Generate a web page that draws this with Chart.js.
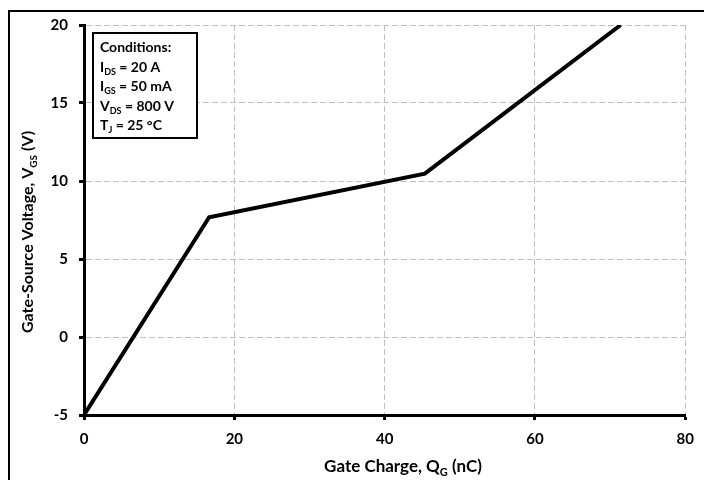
<!DOCTYPE html>
<html>
<head>
<meta charset="utf-8">
<script src="https://cdn.jsdelivr.net/npm/chart.js@4"></script>
<style>
  html, body { margin: 0; padding: 0; background: #fff; }
  #wrap { width: 704px; height: 480px; }
</style>
</head>
<body>
<div id="wrap"><canvas id="gateChart" width="704" height="480"></canvas></div>
<script>
// gate charge curve (nC) vs gate-source voltage (V)
const qgValues = [0, 16.65, 45.35, 71.4];
const vgsValues = [-5, 7.68, 10.47, 20];

const xTicks = [0, 20, 40, 60, 80];
const yTicks = [-5, 0, 5, 10, 15, 20];

// test conditions listed in the box, each line as [text, subscript, rest]
const conditionLines = [
    ['Conditions:', '', ''],
    ['I', 'DS', ' = 20 A'],
    ['I', 'GS', ' = 50 mA'],
    ['V', 'DS', ' = 800 V'],
    ['T', 'J', ' = 25 °C']
];

const FONT = 'Lato, "DejaVu Sans", sans-serif';

// draws "main + subscript + rest" starting at x (left aligned)
function drawSubText(ctx, x, y, main, sub, rest, size) {
    ctx.font = `bold ${size}px ${FONT}`;
    ctx.fillText(main, x, y);
    x += ctx.measureText(main).width;
    if (sub) {
        const subSize = Math.round(size * 0.65);
        ctx.font = `bold ${subSize}px ${FONT}`;
        ctx.fillText(sub, x, y + size * 0.22);
        x += ctx.measureText(sub).width;
    }
    ctx.font = `bold ${size}px ${FONT}`;
    ctx.fillText(rest, x, y);
}

function subTextWidth(ctx, main, sub, rest, size) {
    ctx.font = `bold ${size}px ${FONT}`;
    let w = ctx.measureText(main).width + ctx.measureText(rest).width;
    ctx.font = `bold ${Math.round(size * 0.65)}px ${FONT}`;
    w += ctx.measureText(sub).width;
    return w;
}

const decorations = {
    id: 'decorations',
    afterDraw(chart) {
        const ctx = chart.ctx;
        ctx.save();
        ctx.fillStyle = '#000';
        ctx.strokeStyle = '#000';
        ctx.textBaseline = 'alphabetic';

        // outer frame
        ctx.lineWidth = 2;
        ctx.strokeRect(9, 11, 710, 480);

        // conditions box
        ctx.fillStyle = '#fff';
        ctx.fillRect(93, 33, 104, 105);
        ctx.strokeRect(93, 33, 104, 105);
        ctx.fillStyle = '#000';
        conditionLines.forEach((ln, i) => {
            drawSubText(ctx, 100, 52 + i * 19.6, ln[0], ln[1], ln[2], 14);
        });

        // x axis title
        const xw = subTextWidth(ctx, 'Gate Charge, Q', 'G', ' (nC)', 17);
        drawSubText(ctx, 403 - xw / 2, 472, 'Gate Charge, Q', 'G', ' (nC)', 17);

        // y axis title, rotated
        ctx.translate(33, 232);
        ctx.rotate(-Math.PI / 2);
        const yw = subTextWidth(ctx, 'Gate-Source Voltage, V', 'GS', ' (V)', 16);
        drawSubText(ctx, -yw / 2, 0, 'Gate-Source Voltage, V', 'GS', ' (V)', 16);
        ctx.restore();
    }
};

const tickFont = { family: FONT, size: 15, weight: 'bold' };

new Chart(document.getElementById('gateChart'), {
    type: 'scatter',
    data: {
        datasets: [{
            data: qgValues.map((q, i) => ({ x: q, y: vgsValues[i] })),
            showLine: true,
            borderColor: '#000',
            borderWidth: 4,
            pointRadius: 0,
            tension: 0
        }]
    },
    options: {
        responsive: false,
        devicePixelRatio: 1,
        animation: false,
        layout: { padding: { top: 25, right: 16, left: 0, bottom: 0 } },
        plugins: { legend: { display: false }, tooltip: { enabled: false } },
        scales: {
            x: {
                type: 'linear',
                min: xTicks[0],
                max: xTicks[xTicks.length - 1],
                afterBuildTicks: s => { s.ticks = xTicks.map(v => ({ value: v })); },
                afterFit: s => { s.height = 65; },
                ticks: { color: '#000', font: tickFont, padding: 10, maxRotation: 0 },
                grid: { color: '#bfbfbf', lineWidth: 1, tickColor: '#000', tickWidth: 3, tickLength: 5 },
                border: { color: '#000', width: 3, dash: [6, 3] }
            },
            y: {
                type: 'linear',
                min: yTicks[0],
                max: yTicks[yTicks.length - 1],
                afterBuildTicks: s => { s.ticks = yTicks.map(v => ({ value: v })); },
                afterFit: s => { s.width = 84; },
                ticks: { color: '#000', font: tickFont, padding: 11 },
                grid: { color: '#bfbfbf', lineWidth: 1, tickColor: '#000', tickWidth: 3, tickLength: 5 },
                border: { color: '#000', width: 3, dash: [6, 3] }
            }
        }
    },
    plugins: [decorations]
});
</script>
</body>
</html>
